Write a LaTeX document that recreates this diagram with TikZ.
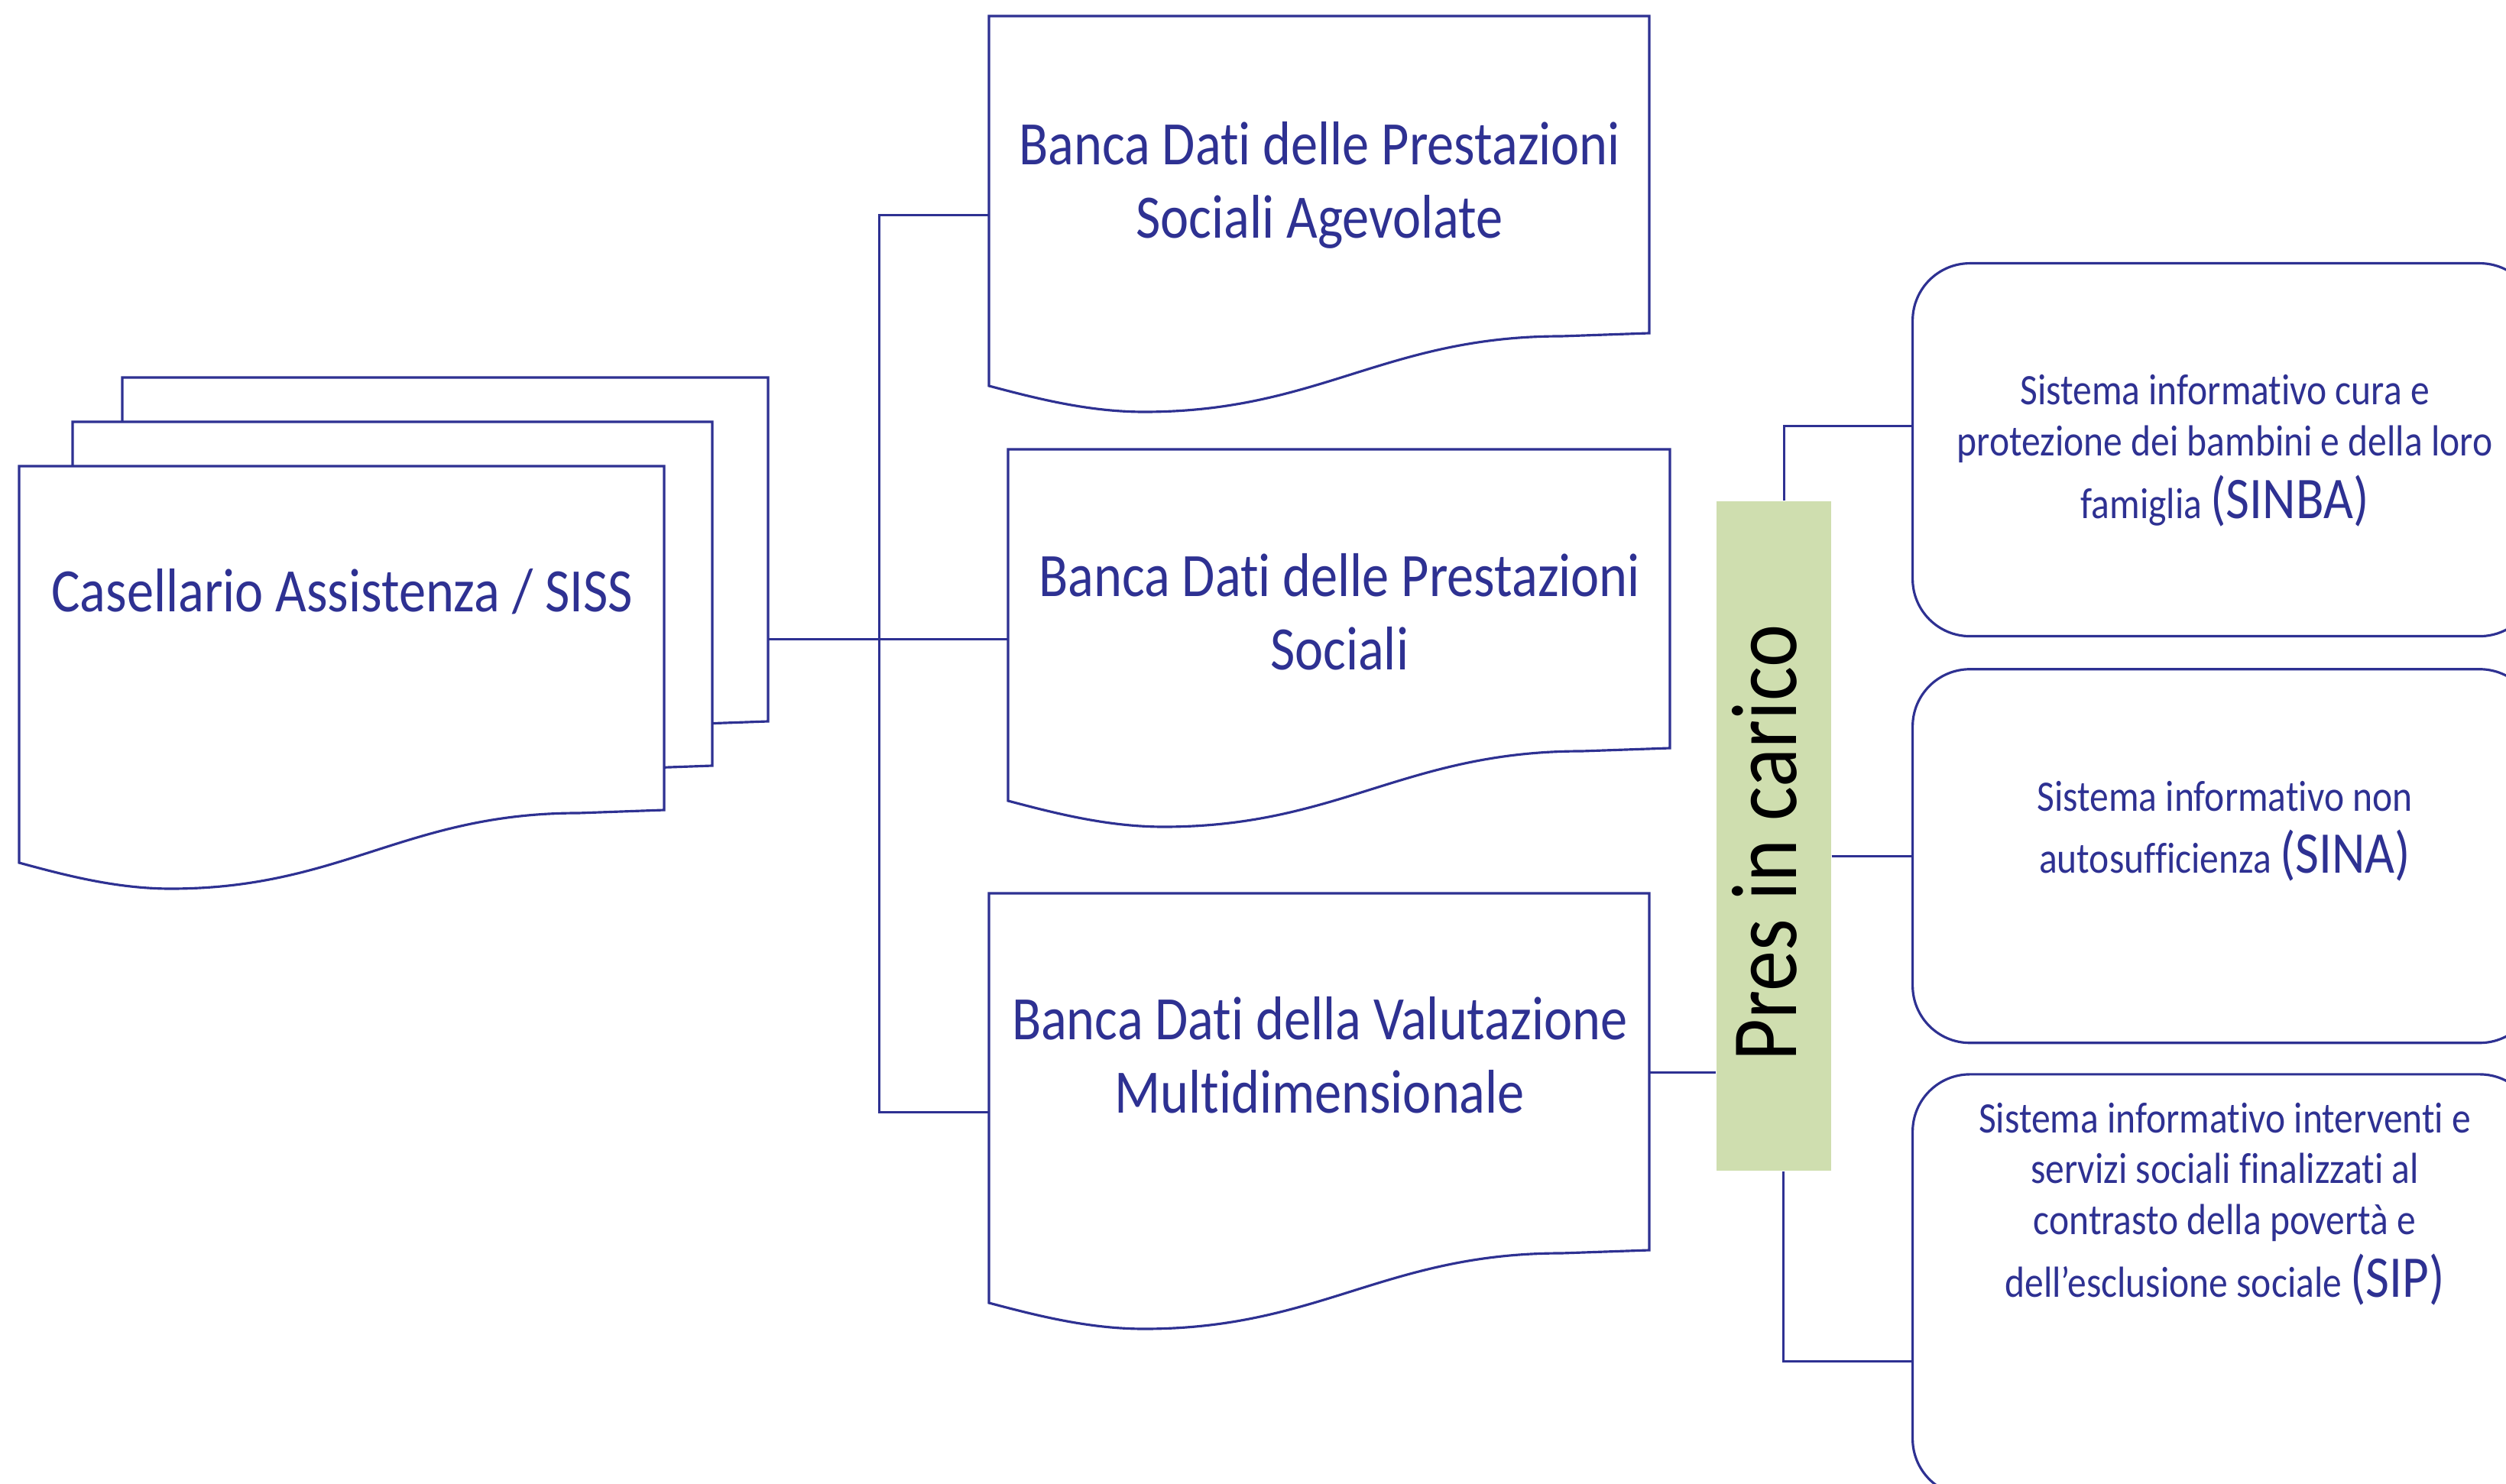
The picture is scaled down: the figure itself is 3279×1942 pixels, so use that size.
\documentclass[tikz,border=0pt]{standalone}
\usepackage{fontspec}
\setmainfont{Carlito}[FakeStretch=0.87, RawFeature={-liga;-clig;-dlig}]
\usepackage{tikz}
\usetikzlibrary{positioning,calc}

\definecolor{bluscuro}{RGB}{46,49,146}
\definecolor{verdechiaro}{RGB}{207,222,175}

\tikzset{
  linea/.style={draw=bluscuro, line width=0.9pt},
  bordo/.style={linea, fill=white},
  scatola/.style={linea, rounded corners=7.5mm, minimum width=81.7mm, inner sep=0pt},
  testo/.style={inner sep=0pt, align=center, text=bluscuro},
  grande/.style={font=\fontsize{23}{27.3}\selectfont},
  piccolo/.style={font=\fontsize{16.2}{19}\selectfont},
}

% 文書の形(下端が波形): 名前, x, y, 幅, 高さ
\newcommand{\documento}[5]{%
  \begin{scope}[shift={(#2,#3)}, xscale=#4]
    \draw[bordo] (0,0) -- (1,0) -- (1,#5) -- (0.867,#5+4)
      .. controls (0.6,#5+4) and (0.5,#5+103) .. (0.235,#5+103)
      .. controls (0.15,#5+103) and (0.07,#5+85) .. (0,#5+69) -- cycle;
  \end{scope}
  \node[minimum width=#4*0.1mm, minimum height=#5*0.1mm, inner sep=0pt, anchor=north west] (#1) at (#2,#3) {};
  \coordinate (#1-in) at ($(#1.west)+(0,52)$);
}
\newcommand{\sigla}[1]{{\fontsize{22}{19}\selectfont(#1)}}

\begin{document}
\begin{tikzpicture}[x=0.1mm, y=-0.1mm]
    \useasboundingbox (0,0) rectangle (3279,1942);
    \clip (0,0) rectangle (3279,1942);

    % 左: Casellario (3枚重ね)
    \foreach \n/\x/\y/\w in {cas3/160/494/845, cas2/95/552/837, cas1/25/610/844} {
        \documento{\n}{\x}{\y}{\w}{450}
    }
    \node[testo, grande, below=13.4mm of cas1.north] (t-cas) {Casellario Assistenza / SISS};

    % 中央: 三つのバンクデータ
    \documento{bdpsa}{1294}{21}{864}{415}
    \documento{bdps}{1319}{588}{866}{391}
    \documento{bdvm}{1294}{1169}{864}{467}
    \node[testo, grande, below=13.8mm of bdpsa.north] (t-bdpsa) {Banca Dati delle Prestazioni\\Sociali Agevolate};
    \node[testo, grande, below=13.6mm of bdps.north] (t-bdps) {Banca Dati delle Prestazioni\\Sociali};
    \node[testo, grande, below=13.5mm of bdvm.north] (t-bdvm) {Banca Dati della Valutazione\\Multidimensionale};

    % 緑の帯
    \node[fill=verdechiaro, minimum width=15mm, minimum height=87.6mm, inner sep=0pt] (verde) at (2321,1094)
        {\rotatebox{90}{\fontsize{34.8}{40}\selectfont Pres in carico\hspace{1.8mm}\rule[-2.6mm]{0pt}{0pt}}};

    % 右: 三つの情報システム
    \node[scatola, minimum height=48.8mm, anchor=north west] (sinba) at (2501,343) {};
    \node[scatola, minimum height=48.9mm, below=4mm of sinba] (sina) {};
    \node[scatola, minimum height=55.2mm, below=3.8mm of sina] (sip) {};
    \node[testo, piccolo, below=14.7mm of sinba.north] (t-sinba)
        {Sistema informativo cura e\\protezione dei bambini e della loro\\[4.3pt]famiglia \sigla{SINBA}};
    \node[testo, piccolo, below=14.7mm of sina.north] (t-sina)
        {Sistema informativo non\\[4.3pt]autosufficienza \sigla{SINA}};
    \node[testo, piccolo, below=3.8mm of sip.north] (t-sip)
        {Sistema informativo interventi e\\servizi sociali finalizzati al\\contrasto della povertà e\\[4.3pt]dell’esclusione sociale \sigla{SIP}};

    % 接続線
    \coordinate (nodo) at ($(cas3.east |- bdps-in)!0.46!(bdps-in)$);
    \draw[linea] (cas3.east |- bdps-in) -- (bdps-in);
    \draw[linea] (bdpsa-in) -| (nodo) |- (bdvm-in);
    \draw[linea] (bdvm.east) -- (bdvm.east -| verde.west);
    \coordinate (verde-su) at ($(verde.north west)!0.59!(verde.north east)$);
    \coordinate (verde-giu) at ($(verde.south west)!0.58!(verde.south east)$);
    \draw[linea] (verde-su) |- ($(sinba.north west)!0.436!(sinba.south west)$);
    \draw[linea] (sina.west -| verde.east) -- (sina.west);
    \draw[linea] (verde-giu) |- ($(sip.north west)!0.68!(sip.south west)$);
\end{tikzpicture}
\end{document}
